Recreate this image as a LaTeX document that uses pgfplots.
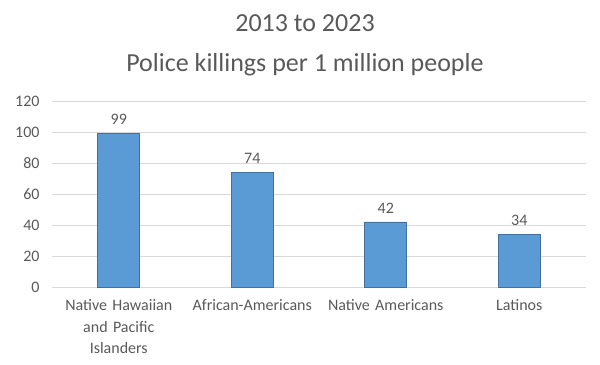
\documentclass[border=0pt]{standalone}
\usepackage{fontspec}
\setmainfont{Carlito}
\usepackage{pgfplots}
\pgfplotsset{compat=1.18}
\definecolor{barfill}{HTML}{5B9BD5}
\definecolor{barline}{HTML}{41719C}
\definecolor{gridc}{HTML}{D9D9D9}
\definecolor{txt}{HTML}{595959}
\begin{document}
\begin{tikzpicture}
\path[use as bounding box] (-52bp,-78bp) rectangle (548bp,287bp);
\begin{axis}[
  at={(0,0)}, anchor=south west,
  scale only axis,
  width=534bp, height=186bp,
  xmin=-0.5, xmax=3.5,
  ymin=0, ymax=120,
  ytick={0,20,...,120},
  xtick={0,1,2,3},
  xticklabels={Native Hawaiian\\and Pacific\\Islanders, African-Americans, Native Americans, Latinos},
  xticklabel style={align=center, text width=130bp, font=\fontsize{16bp}{21.5bp}\selectfont, text=txt, yshift=-9bp},
  yticklabel style={font=\fontsize{16bp}{19bp}\selectfont, text=txt, xshift=-9bp},
  /pgf/number format/assume math mode=true,
  major tick length=0pt,
  axis line style={draw=none},
  ymajorgrids,
  major grid style={gridc, line width=0.8pt},
  clip=false,
  title={2013 to 2023\\Police killings per 1 million people},
  title style={align=center, font=\fontsize{26bp}{40bp}\selectfont, text=txt, at={(0.5,1)}, anchor=south, yshift=16bp, xshift=-14bp},
]
\addplot[ybar, bar width=42bp, fill=barfill, draw=barline, line width=0.6pt,
  nodes near coords, nodes near coords style={font=\fontsize{16bp}{19bp}\selectfont, text=txt, yshift=5bp}]
  coordinates {(0,99) (1,74) (2,42) (3,34)};
\end{axis}
\end{tikzpicture}
\end{document}
